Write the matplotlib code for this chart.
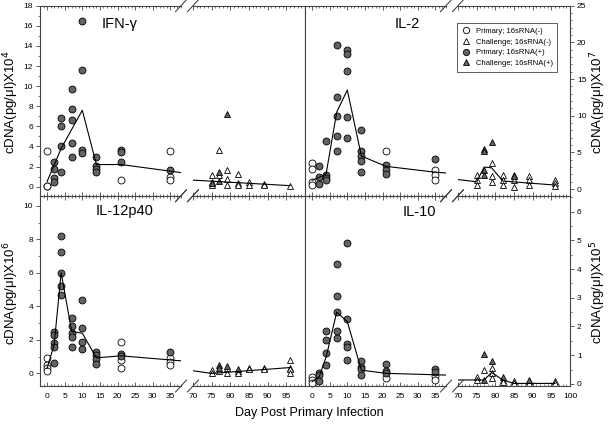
import matplotlib.pyplot as plt
from matplotlib.lines import Line2D
from matplotlib.ticker import MultipleLocator

plt.rcParams['font.family'] = ['Liberation Sans', 'DejaVu Sans']

# ============================================
# DATOS (dia, valor)
# ============================================

ifn_circ_neg = [(0, 3.5), (0, 0.1), (0, 0.05), (21, 0.7), (35, 3.5), (35, 1.0), (35, 0.7)]
ifn_circ_pos = [(2, 2.5), (2, 1.8), (2, 0.9), (2, 0.5), (4, 6.8), (4, 6.0), (4, 4.0), (4, 1.5),
                (7, 9.7), (7, 7.7), (7, 6.6), (7, 4.3), (7, 2.9), (10, 16.5), (10, 11.6),
                (10, 3.6), (10, 3.3), (14, 2.9), (14, 2.1), (14, 1.8), (14, 1.5),
                (21, 3.6), (21, 3.4), (21, 2.5), (35, 1.7)]
ifn_tri_neg = [(75, 1.2), (75, 0.5), (75, 0.2), (77, 3.6), (77, 1.2), (79, 1.7), (79, 0.8),
               (79, 0.2), (82, 1.3), (82, 0.4), (82, 0.2), (85, 0.5), (85, 0.2), (89, 0.3),
               (89, 0.2), (96, 0.1)]
ifn_tri_pos = [(77, 1.5), (77, 0.6), (79, 7.2), (75, 0.4)]
ifn_linea_a = [(0, 0.5), (4, 3.8), (10, 7.6), (14, 2.2), (21, 2.2), (38, 1.4)]
ifn_linea_b = [(70, 0.65), (96, 0.1)]

il2_circ_neg = [(0, 3.6), (0, 2.7), (0, 0.9), (0, 0.5), (21, 5.2), (35, 2.6), (35, 1.9), (35, 1.2)]
il2_circ_pos = [(2, 3.1), (2, 1.7), (2, 0.7), (4, 6.6), (4, 1.9), (4, 1.5), (4, 1.2),
                (7, 19.7), (7, 12.5), (7, 10.0), (7, 7.3), (7, 5.2), (10, 18.9), (10, 18.4),
                (10, 16.1), (10, 9.8), (10, 7.0), (14, 8.1), (14, 5.2), (14, 4.5), (14, 3.8),
                (14, 2.3), (21, 3.3), (21, 2.6), (21, 2.1), (35, 4.1)]
il2_tri_neg = [(75, 1.9), (75, 1.2), (75, 0.5), (79, 3.6), (79, 1.8), (79, 1.0), (82, 1.9),
               (82, 1.2), (82, 0.6), (85, 1.9), (85, 1.2), (85, 0.3), (89, 1.8), (89, 1.2),
               (89, 0.5), (96, 1.2), (96, 0.8), (96, 0.4)]
il2_tri_pos = [(77, 5.5), (77, 5.2), (77, 2.6), (77, 1.9), (79, 6.4), (85, 1.8)]
il2_linea_a = [(0, 1.2), (2, 1.6), (4, 2.1), (7, 10.5), (10, 13.5), (14, 4.5), (21, 3.1),
               (35, 2.3), (38, 2.2)]
il2_linea_b = [(70, 1.3), (75, 1.0), (77, 3.0), (79, 2.9), (82, 1.1), (96, 0.55)]

il12_circ_neg = [(0, 0.9), (0, 0.5), (0, 0.3), (0, 0.15), (21, 1.9), (21, 0.8), (21, 0.3),
                 (35, 0.9), (35, 0.7), (35, 0.5)]
il12_circ_pos = [(2, 2.5), (2, 2.3), (2, 1.8), (2, 1.6), (2, 0.65), (4, 8.2), (4, 7.25),
                 (4, 6.0), (4, 5.2), (4, 4.65), (7, 3.3), (7, 2.85), (7, 2.4), (7, 2.2),
                 (7, 1.55), (10, 4.4), (10, 2.7), (10, 1.9), (10, 1.45), (14, 1.3), (14, 1.1),
                 (14, 0.85), (14, 0.55), (21, 1.15), (21, 1.05), (35, 1.25)]
il12_tri_neg = [(75, 0.2), (75, 0.05), (77, 0.15), (79, 0.3), (79, 0.05), (82, 0.15),
                (82, 0.05), (85, 0.35), (85, 0.25), (89, 0.35), (89, 0.25), (96, 0.8),
                (96, 0.35), (96, 0.25), (96, 0.05)]
il12_tri_pos = [(77, 0.5), (77, 0.3), (79, 0.45), (82, 0.25)]
il12_linea_a = [(0, 0.3), (2, 1.7), (4, 6.0), (7, 2.5), (10, 2.4), (14, 0.93), (21, 1.05),
                (38, 0.75)]
il12_linea_b = [(70, 0.16), (75, 0.0), (96, 0.35)]

il10_circ_neg = [(0, 0.25), (0, 0.14), (0, 0.02), (21, 0.2), (35, 0.29), (35, 0.14)]
il10_circ_pos = [(2, 0.37), (2, 0.31), (2, 0.11), (4, 1.86), (4, 1.52), (4, 1.09), (4, 0.66),
                 (7, 4.16), (7, 3.05), (7, 2.5), (7, 1.86), (7, 1.61), (10, 4.9), (10, 2.26),
                 (10, 1.4), (10, 1.29), (10, 0.83), (14, 0.79), (14, 0.6), (14, 0.52),
                 (14, 0.33), (21, 0.68), (21, 0.46), (21, 0.37), (35, 0.52), (35, 0.43)]
il10_tri_neg = [(75, 0.25), (75, 0.14), (77, 0.48), (79, 0.54), (79, 0.37), (79, 0.2),
                (82, 0.14), (82, 0.08), (85, 0.12), (85, 0.02), (89, 0.1), (89, 0.02),
                (96, 0.12), (96, 0.02)]
il10_tri_pos = [(77, 1.06), (77, 0.14), (79, 0.79), (82, 0.25), (89, 0.14)]
il10_linea_a = [(0, 0.08), (2, 0.25), (4, 0.94), (7, 2.5), (10, 2.17), (14, 0.48), (21, 0.37),
                (38, 0.31)]
il10_linea_b = [(70, 0.14), (77, 0.14), (79, 0.4), (82, 0.14), (85, 0.02), (96, 0.02)]

# ============================================
# PANELES
# ============================================

paneles = [
    dict(fila=0, col=0, titulo="IFN-γ", tpos=(120, 24), ylim=(-0.9, 18), ypaso=2, ymenor=1,
         exp=4, datos=(ifn_circ_neg, ifn_circ_pos, ifn_tri_neg, ifn_tri_pos),
         lineas=(ifn_linea_a, ifn_linea_b)),
    dict(fila=0, col=1, titulo="IL-2", tpos=(407, 24), ylim=(-0.9, 25), ypaso=5, ymenor=1,
         exp=7, datos=(il2_circ_neg, il2_circ_pos, il2_tri_neg, il2_tri_pos),
         lineas=(il2_linea_a, il2_linea_b)),
    dict(fila=1, col=0, titulo="IL-12p40", tpos=(125, 211), ylim=(-0.75, 10.6), ypaso=2,
         ymenor=1, exp=6, datos=(il12_circ_neg, il12_circ_pos, il12_tri_neg, il12_tri_pos),
         lineas=(il12_linea_a, il12_linea_b)),
    dict(fila=1, col=1, titulo="IL-10", tpos=(419, 212), ylim=(-0.07, 6.55), ypaso=1,
         ymenor=0.5, exp=5, datos=(il10_circ_neg, il10_circ_pos, il10_tri_neg, il10_tri_pos),
         lineas=(il10_linea_a, il10_linea_b)),
]

# ============================================
# GEOMETRIA (pixeles)
# ============================================

W, H = 608, 424
gris = "#646464"
borde = "#444444"

seg_x = {0: ((40, 181), (193, 305)), 1: ((305, 446), (458, 570))}
fila_y = {0: (5.7, 195.7), 1: (195.7, 386)}

# orden: circulo abierto, circulo lleno, triangulo abierto, triangulo lleno
estilos = [
    dict(marker="o", mfc="white"),
    dict(marker="o", mfc=gris),
    dict(marker="^", mfc="white"),
    dict(marker="^", mfc=gris),
]

fig = plt.figure(figsize=(W / 100, H / 100), dpi=100)


def fx(x):
    return x / W


def fy(y):
    return 1 - y / H


def romper(x, y):
    # marca "/" de corte del eje
    fig.add_artist(Line2D([fx(x - 5.5), fx(x + 5.5)], [fy(y + 6), fy(y - 6)],
                          color="#333333", lw=0.7))


for p in paneles:

    y0, y1 = fila_y[p["fila"]]

    for k, (x0, x1) in enumerate(seg_x[p["col"]]):

        ax = fig.add_axes([fx(x0), fy(y1), (x1 - x0) / W, (y1 - y0) / H])

        if k == 0:
            ax.set_xlim(-2, 38)
            ax.set_xticks(range(0, 36, 5))
            ax.spines["right"].set_visible(False)
        else:
            ax.set_xlim(70, 100)
            ax.set_xticks(range(70, 101 if p["col"] == 1 else 96, 5))
            ax.spines["left"].set_visible(False)

        for s in ax.spines.values():
            s.set_color(borde)
            s.set_linewidth(0.8)

        ax.set_ylim(*p["ylim"])
        ax.yaxis.set_major_locator(MultipleLocator(p["ypaso"]))
        ax.yaxis.set_minor_locator(MultipleLocator(p["ymenor"]))
        ax.xaxis.set_minor_locator(MultipleLocator(1))

        ax.tick_params(axis="x", which="both", direction="in", top=True, bottom=True,
                       labelbottom=(p["fila"] == 1), labelsize=6, pad=5, color=borde)
        ax.tick_params(axis="x", which="major", length=3, width=0.6)
        ax.tick_params(axis="x", which="minor", length=1.5, width=0.5)

        lado_y = (p["col"] == 0 and k == 0) or (p["col"] == 1 and k == 1)
        if lado_y:
            if p["col"] == 0:
                ax.yaxis.tick_left()
            else:
                ax.yaxis.tick_right()
            ax.tick_params(axis="y", which="both", direction="out", labelsize=6, pad=2,
                           color=borde)
            ax.tick_params(axis="y", which="major", length=3, width=0.6)
            ax.tick_params(axis="y", which="minor", length=1.5, width=0.5)
        else:
            ax.tick_params(axis="y", which="both", left=False, right=False,
                           labelleft=False, labelright=False)

        # puntos del segmento
        for serie, est in zip(p["datos"], estilos):
            pts = [(d, v) for d, v in serie if (d < 50) == (k == 0)]
            if not pts:
                continue
            ax.plot([d for d, v in pts], [v for d, v in pts], linestyle="none",
                    mec="black", mew=0.6, ms=5, clip_on=False, **est)

        linea = p["lineas"][k]
        ax.plot([d for d, v in linea], [v for d, v in linea], color="black", lw=0.8)

    # marcas de corte arriba y abajo
    xa = seg_x[p["col"]][0][1]
    xb = seg_x[p["col"]][1][0]
    for yy in (y0, y1):
        romper(xa, yy)
        romper(xb, yy)

    fig.text(fx(p["tpos"][0]), fy(p["tpos"][1]), p["titulo"], ha="center", va="center",
             fontsize=10.5)

    etiqueta = "cDNA(pg/μl)X10$^{%d}$" % p["exp"]
    yc = (y0 + y1) / 2 + 2
    if p["col"] == 0:
        fig.text(fx(11), fy(yc), etiqueta, rotation=90, ha="center", va="center",
                 fontsize=9.5)
    else:
        fig.text(fx(598), fy(yc), etiqueta, rotation=90, ha="center", va="center",
                 fontsize=9.5)

# ============================================
# LEYENDA Y EJE X
# ============================================

nombres = ["Primary; 16sRNA(-)", "Challenge; 16sRNA(-)",
           "Primary; 16sRNA(+)", "Challenge; 16sRNA(+)"]
orden_leyenda = [0, 2, 1, 3]
manijas = [Line2D([], [], linestyle="none", mec="black", mew=0.6, ms=4.5, **estilos[i])
           for i in orden_leyenda]
leg = fig.legend(manijas, nombres, loc="upper right",
                 bbox_to_anchor=(fx(561), fy(19)), fontsize=5.5, frameon=True,
                 fancybox=False, handletextpad=0.6, labelspacing=0.45,
                 borderpad=0.6, handlelength=1.2)
leg.get_frame().set_edgecolor("#333333")
leg.get_frame().set_linewidth(0.7)

fig.text(fx(309), fy(413), "Day Post Primary Infection", ha="center", va="center",
         fontsize=9)

plt.savefig("out.png", dpi=100)
